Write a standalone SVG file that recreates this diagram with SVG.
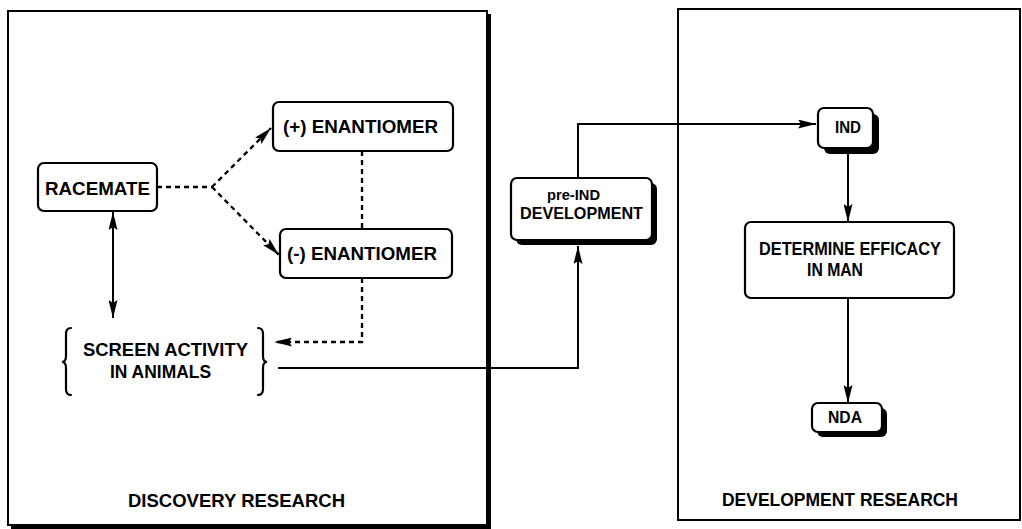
<svg xmlns="http://www.w3.org/2000/svg" width="1022" height="529" viewBox="0 0 1022 529">
<style>
  text { font-family: "Liberation Sans", Arial, sans-serif; font-weight: bold; fill: #000; text-anchor: middle; dominant-baseline: central; }
  .box { fill: #fff; stroke: #000; stroke-width: 2.2; }
  .shadow { fill: #000; }
  .panel { fill: none; stroke: #000; stroke-width: 2; }
  .solid { fill: none; stroke: #000; stroke-width: 2; }
  .dash { fill: none; stroke: #000; stroke-width: 2.3; stroke-dasharray: 5 4; }
  .brace { fill: none; stroke: #000; stroke-width: 2.2; stroke-linecap: round; }
</style>
<defs>
  <marker id="arr" viewBox="0 0 18 9" refX="18" refY="4.5" markerWidth="18" markerHeight="9" markerUnits="userSpaceOnUse" orient="auto-start-reverse">
    <path d="M0,0 L18,4.5 L0,9 L3,4.5 z" fill="#000"/>
  </marker>
</defs>
<rect width="1022" height="529" fill="#fff"/>

<g id="panel-discovery">
  <rect x="486" y="14" width="5" height="515" class="shadow"/>
  <rect x="11" y="524" width="480" height="5" class="shadow"/>
  <rect x="8" y="11" width="479" height="514" class="panel"/>
  <text x="236.5" y="500" font-size="18.5" textLength="217" lengthAdjust="spacingAndGlyphs">DISCOVERY RESEARCH</text>
</g>

<g id="panel-development">
  <rect x="678" y="9" width="342" height="511" class="panel"/>
  <text x="840" y="499" font-size="18.5" textLength="236" lengthAdjust="spacingAndGlyphs">DEVELOPMENT RESEARCH</text>
</g>

<g id="racemate">
  <rect x="38" y="163" width="119" height="48" rx="6" class="box"/>
  <text x="97.5" y="188" font-size="19" textLength="105" lengthAdjust="spacingAndGlyphs">RACEMATE</text>
</g>

<g id="plus-enantiomer">
  <rect x="273" y="102" width="180" height="49" rx="6" class="box"/>
  <text x="360.5" y="126" font-size="19" textLength="155" lengthAdjust="spacingAndGlyphs">(+) ENANTIOMER</text>
</g>

<g id="minus-enantiomer">
  <rect x="280" y="229" width="172" height="49" rx="6" class="box"/>
  <text x="362" y="253" font-size="19" textLength="150" lengthAdjust="spacingAndGlyphs">(-) ENANTIOMER</text>
</g>

<g id="screen-activity">
  <path class="brace" d="M71,328 Q66,328 66,334 L66,356 Q66,362 62,362 Q66,362 66,368 L66,389 Q66,395 71,395"/>
  <path class="brace" d="M258,328 Q263,328 263,334 L263,356 Q263,362 267,362 Q263,362 263,368 L263,389 Q263,395 258,395"/>
  <text x="165.5" y="350" font-size="18" textLength="165" lengthAdjust="spacingAndGlyphs">SCREEN ACTIVITY</text>
  <text x="160.5" y="372" font-size="18" textLength="101" lengthAdjust="spacingAndGlyphs">IN ANIMALS</text>
</g>

<g id="pre-ind">
  <rect x="516" y="183" width="141" height="62" rx="6" class="shadow"/>
  <rect x="511" y="178" width="141" height="62" rx="6" class="box"/>
  <text x="573.5" y="194" font-size="15.5" textLength="53" lengthAdjust="spacingAndGlyphs">pre-IND</text>
  <text x="581.5" y="213" font-size="17" textLength="123" lengthAdjust="spacingAndGlyphs">DEVELOPMENT</text>
</g>

<g id="ind">
  <rect x="824" y="114" width="55" height="40" rx="6" class="shadow"/>
  <rect x="818" y="108" width="55" height="40" rx="6" class="box"/>
  <text x="848" y="127" font-size="16.5" textLength="26" lengthAdjust="spacingAndGlyphs">IND</text>
</g>

<g id="determine">
  <rect x="745" y="222" width="209" height="76" rx="6" class="box"/>
  <text x="850" y="249" font-size="17.5" textLength="182" lengthAdjust="spacingAndGlyphs">DETERMINE EFFICACY</text>
  <text x="835" y="270" font-size="17.5" textLength="56" lengthAdjust="spacingAndGlyphs">IN MAN</text>
</g>

<g id="nda">
  <rect x="817" y="408" width="70" height="29" rx="6" class="shadow"/>
  <rect x="812" y="403" width="70" height="29" rx="6" class="box"/>
  <text x="845" y="417" font-size="16.5" textLength="34" lengthAdjust="spacingAndGlyphs">NDA</text>
</g>

<g id="connectors">
  <path class="dash" d="M157,187 L212,187"/>
  <path class="dash" d="M212,187 L271,128" marker-end="url(#arr)"/>
  <path class="dash" d="M212,187 L279,255" marker-end="url(#arr)"/>
  <path class="dash" d="M362,151 L362,229"/>
  <path class="dash" d="M362,278 L362,342 L274,342" marker-end="url(#arr)"/>
  <path class="solid" d="M113,212 L113,318" marker-start="url(#arr)" marker-end="url(#arr)"/>
  <path class="solid" d="M278,368 L578,368 L578,246" marker-end="url(#arr)"/>
  <path class="solid" d="M578,178 L578,124 L816,124" marker-end="url(#arr)"/>
  <path class="solid" d="M848,154 L848,222" marker-end="url(#arr)"/>
  <path class="solid" d="M848,298 L848,403" marker-end="url(#arr)"/>
</g>
</svg>
